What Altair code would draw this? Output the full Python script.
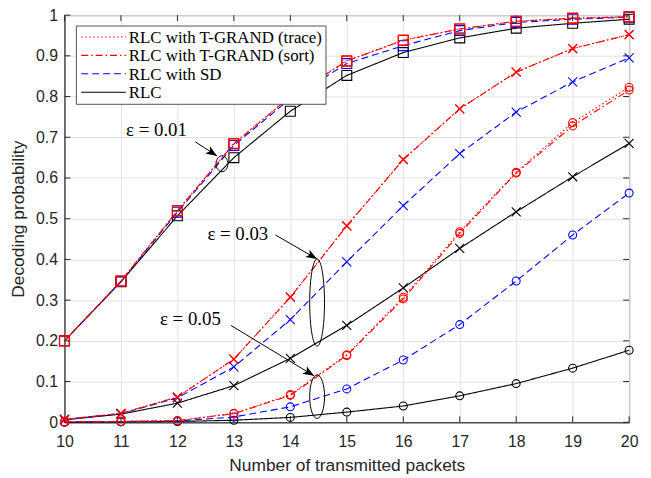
import math
import altair as alt
import pandas as pd

# ---------------- data ----------------
packets = [10, 11, 12, 13, 14, 15, 16, 17, 18, 19, 20]
methods = ["RLC with T-GRAND (trace)", "RLC with T-GRAND (sort)", "RLC with SD", "RLC"]
eps_levels = ["0.01", "0.03", "0.05"]

# epsilon = 0.01 (square markers)
e01_trace = [0.200, 0.347, 0.520, 0.685, 0.800, 0.888, 0.939, 0.966, 0.985, 0.993, 0.996]
e01_sort = [0.200, 0.347, 0.519, 0.684, 0.800, 0.887, 0.938, 0.966, 0.985, 0.992, 0.996]
e01_sd = [0.200, 0.346, 0.516, 0.680, 0.795, 0.881, 0.925, 0.962, 0.982, 0.990, 0.995]
e01_rlc = [0.200, 0.345, 0.507, 0.650, 0.764, 0.852, 0.908, 0.944, 0.968, 0.980, 0.990]

# epsilon = 0.03 (x markers)
e03_trace = [0.007, 0.022, 0.062, 0.155, 0.308, 0.483, 0.646, 0.770, 0.860, 0.918, 0.952]
e03_sort = [0.007, 0.022, 0.062, 0.155, 0.307, 0.482, 0.645, 0.770, 0.860, 0.918, 0.952]
e03_sd = [0.007, 0.021, 0.060, 0.136, 0.252, 0.394, 0.532, 0.660, 0.762, 0.836, 0.895]
e03_rlc = [0.006, 0.020, 0.047, 0.090, 0.157, 0.238, 0.330, 0.427, 0.517, 0.603, 0.685]

# epsilon = 0.05 (circle markers)
e05_trace = [0.001, 0.002, 0.004, 0.022, 0.068, 0.166, 0.307, 0.468, 0.614, 0.736, 0.823]
e05_sort = [0.001, 0.002, 0.004, 0.021, 0.066, 0.164, 0.303, 0.464, 0.612, 0.728, 0.816]
e05_sd = [0.001, 0.002, 0.003, 0.013, 0.038, 0.082, 0.153, 0.240, 0.347, 0.460, 0.563]
e05_rlc = [0.000, 0.001, 0.002, 0.005, 0.012, 0.025, 0.040, 0.065, 0.095, 0.133, 0.177]

x_ticks = [10, 11, 12, 13, 14, 15, 16, 17, 18, 19, 20]
y_ticks = [0, 0.1, 0.2, 0.3, 0.4, 0.5, 0.6, 0.7, 0.8, 0.9, 1]

# annotations (data coordinates)
ann_text = ["\u03b5 = 0.01", "\u03b5 = 0.03", "\u03b5 = 0.05"]
ann_text_x = [11.63, 13.07, 12.23]
ann_text_y = [0.718, 0.462, 0.253]
arrow_x1 = [12.316, 13.737, 12.947]
arrow_y1 = [0.689, 0.460, 0.238]
arrow_x2 = [12.702, 14.474, 14.421]
arrow_y2 = [0.654, 0.401, 0.114]
ell_x = [12.789, 14.474, 14.474]
ell_y = [0.635, 0.294, 0.063]
ell_halfw = [6, 7.5, 7.5]
ell_halfh = [8, 44, 22]

# ---------------- build tables ----------------
series = {
    (methods[0], "0.01"): e01_trace, (methods[1], "0.01"): e01_sort,
    (methods[2], "0.01"): e01_sd, (methods[3], "0.01"): e01_rlc,
    (methods[0], "0.03"): e03_trace, (methods[1], "0.03"): e03_sort,
    (methods[2], "0.03"): e03_sd, (methods[3], "0.03"): e03_rlc,
    (methods[0], "0.05"): e05_trace, (methods[1], "0.05"): e05_sort,
    (methods[2], "0.05"): e05_sd, (methods[3], "0.05"): e05_rlc,
}
rows = []
for (m, e), vals in series.items():
    for xv, yv in zip(packets, vals):
        rows.append({"packets": xv, "prob": yv, "method": m, "eps": e})
df = pd.DataFrame(rows)

W, H = 570, 411
AX = "#262626"

styles = {
    methods[0]: ("#ff0000", [1.5, 2.5]),
    methods[1]: ("#ff0000", [7, 3, 1.5, 3]),
    methods[2]: ("#0000ff", [7, 4]),
    methods[3]: ("#000000", [1, 0]),
}

xs = alt.Scale(domain=[10, 20], nice=False, zero=False)
ys = alt.Scale(domain=[0, 1], nice=False, zero=False)

X_PATH = "M -1,-1 L 1,1 M -1,1 L 1,-1"
shape_enc = alt.Shape("eps:O", scale=alt.Scale(domain=eps_levels, range=["square", X_PATH, "circle"]), legend=None)
size_enc = alt.Size("eps:O", scale=alt.Scale(domain=eps_levels, range=[100, 64, 85]), legend=None)

x_axis = alt.Axis(values=x_ticks, title="Number of transmitted packets", grid=True, labelFlush=False,
                  tickSize=0, labelPadding=11, titlePadding=8)
y_axis = alt.Axis(values=y_ticks, format=".1~f", title="Decoding probability", grid=True, labelFlush=False,
                  tickSize=0, labelPadding=7, titlePadding=8)


def X(field, axis=alt.Undefined):
    return alt.X(field, scale=xs, axis=axis)


def Y(field, axis=alt.Undefined):
    return alt.Y(field, scale=ys, axis=axis)


layers = []

# inward ticks (first layer also carries the axes)
tdf_x = pd.DataFrame({"packets": x_ticks})
tdf_y = pd.DataFrame({"prob": y_ticks})
layers.append(alt.Chart(tdf_x).mark_rule(color=AX, strokeWidth=1).encode(
    x=X("packets:Q", x_axis), y=alt.value(H), y2=alt.value(H - 6)))
layers.append(alt.Chart(tdf_x).mark_rule(color=AX, strokeWidth=1).encode(
    x=X("packets:Q", x_axis), y=alt.value(0), y2=alt.value(6)))
layers.append(alt.Chart(tdf_y).mark_rule(color=AX, strokeWidth=1).encode(
    y=Y("prob:Q", y_axis), x=alt.value(0), x2=alt.value(6)))
layers.append(alt.Chart(tdf_y).mark_rule(color=AX, strokeWidth=1).encode(
    y=Y("prob:Q", y_axis), x=alt.value(W), x2=alt.value(W - 6)))

draw_order = [methods[3], methods[2], methods[1], methods[0]]
for m in draw_order:
    col, dash = styles[m]
    sub = df[df["method"] == m]
    base = alt.Chart(sub)
    layers.append(base.mark_line(color=col, strokeDash=dash, strokeWidth=1.1).encode(
        x=X("packets:Q", x_axis), y=Y("prob:Q", y_axis), detail="eps:N"))
    layers.append(base.mark_point(color=col, filled=False, strokeWidth=1.1, opacity=1).encode(
        x=X("packets:Q", x_axis), y=Y("prob:Q", y_axis), shape=shape_enc, size=size_enc))

# annotations
ann = pd.DataFrame({
    "label": ann_text, "tx": ann_text_x, "ty": ann_text_y,
    "x1": arrow_x1, "y1": arrow_y1, "x2": arrow_x2, "y2": arrow_y2,
    "ex": ell_x, "ey": ell_y,
})
px_per_x = W / 10.0
px_per_y = H / 1.0
ann["ang"] = [math.degrees(math.atan2(-(b2 - b1) * px_per_y, (a2 - a1) * px_per_x))
              for a1, b1, a2, b2 in zip(arrow_x1, arrow_y1, arrow_x2, arrow_y2)]
ann["eshape"] = ["M {r},0 A {r},1 0 1,0 {n},0 A {r},1 0 1,0 {r},0 Z".format(r=round(w / h, 3), n=-round(w / h, 3))
                 for w, h in zip(ell_halfw, ell_halfh)]
ann["esize"] = [(2 * h) ** 2 for h in ell_halfh]

ARROW = "M 0,0 L -1,-0.38 L -0.75,0 L -1,0.38 Z"
layers.append(alt.Chart(ann).mark_rule(color="black", strokeWidth=1).encode(
    x=X("x1:Q", x_axis), y=Y("y1:Q", y_axis), x2="x2:Q", y2="y2:Q"))
layers.append(alt.Chart(ann).mark_point(shape=ARROW, filled=True, color="black", opacity=1, size=520).encode(
    x=X("x2:Q", x_axis), y=Y("y2:Q", y_axis), angle=alt.Angle("ang:Q", scale=None)))
layers.append(alt.Chart(ann).mark_point(filled=False, color="black", strokeWidth=1, opacity=1).encode(
    x=X("ex:Q", x_axis), y=Y("ey:Q", y_axis), shape=alt.Shape("eshape:N", scale=None, legend=None),
    size=alt.Size("esize:Q", scale=None, legend=None)))
layers.append(alt.Chart(ann).mark_text(font="Liberation Serif", fontSize=19, color="black").encode(
    x=X("tx:Q", x_axis), y=Y("ty:Q", y_axis), text="label:N"))

# legend (drawn manually, box over the lines like the reference)
one = pd.DataFrame({"k": [0]})
layers.append(alt.Chart(one).mark_rect(fill="white", stroke=AX, strokeWidth=0.8).encode(
    x=alt.value(12), x2=alt.value(264), y=alt.value(11), y2=alt.value(90)))
for i, m in enumerate(methods):
    col, dash = styles[m]
    yy = 22 + i * 18.6
    layers.append(alt.Chart(one).mark_rule(color=col, strokeDash=dash, strokeWidth=1.1).encode(
        x=alt.value(17), x2=alt.value(62), y=alt.value(yy)))
    layers.append(alt.Chart(one).mark_text(align="left", baseline="middle", font="Liberation Serif",
                                           fontSize=17, color="black").encode(
        x=alt.value(65), y=alt.value(yy + 1), text=alt.value(m)))

chart = alt.layer(*layers).properties(
    width=W, height=H,
    padding={"left": 57, "top": 5, "right": 14, "bottom": 50},
    autosize=alt.AutoSizeParams(type="none"),
).configure_view(stroke=AX, strokeWidth=1).configure_axis(
    labelFont="Liberation Sans", labelFontSize=16, labelColor=AX,
    titleFont="Liberation Sans", titleFontSize=17.5, titleColor=AX, titleFontWeight="normal",
    gridColor="#e3e3e3", gridWidth=1, domainColor=AX, domainWidth=1,
)

chart.save("out.html", embed_options={"renderer": "svg", "actions": False})
